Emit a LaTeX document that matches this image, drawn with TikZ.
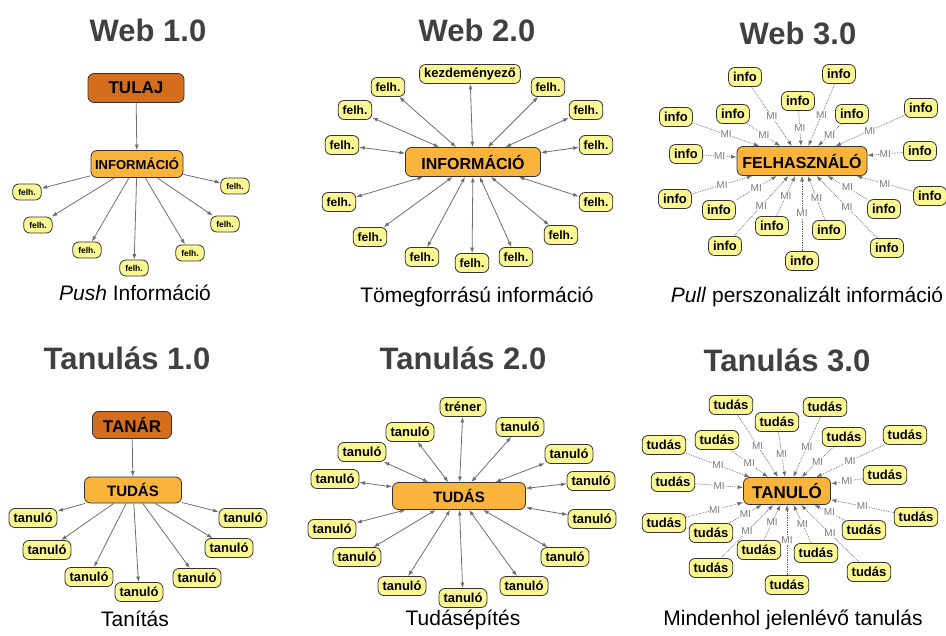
\documentclass[tikz,border=0pt]{standalone}
\usepackage{fontspec}
\setmainfont{Liberation Sans}
\usepackage{xcolor}
\usetikzlibrary{arrows.meta}

\definecolor{titlegray}{HTML}{404040}
\definecolor{ownerorange}{HTML}{D46E1C}
\definecolor{huborange}{HTML}{FAB43C}
\definecolor{leafyellow}{HTML}{FBF792}
\definecolor{linegray}{HTML}{6E6E6E}
\definecolor{migray}{HTML}{7A7A7A}
\newcommand{\fsz}[1]{\fontsize{#1}{#1}\selectfont}

\begin{document}
\begin{tikzpicture}[x=1pt, y=-1pt,
  title/.style={font=\fsz{31}\bfseries, text=titlegray},
  caption/.style={font=\fsz{21}},
  ownerbox/.style={draw=black!80, line width=0.8pt, fill=ownerorange, rounded corners=6pt, font=\fsz{17}\bfseries, inner sep=2pt},
  hubbox/.style={draw=black!80, line width=0.8pt, fill=huborange, rounded corners=6pt, font=\fsz{16}\bfseries, inner sep=2pt},
  leaf/.style={draw=black!80, line width=0.8pt, fill=leafyellow, rounded corners=6pt, font=\fsz{13}\bfseries, inner xsep=4.5pt, inner ysep=1pt, minimum height=19pt},
  tinyleaf/.style={leaf, font=\fsz{8.5}\bfseries, inner xsep=5.5pt, minimum height=16pt},
  push/.style={draw=linegray, line width=0.8pt, -{Latex[length=5.5pt,width=4pt]}},
  share/.style={draw=linegray, line width=0.8pt, {Latex[length=5.5pt,width=4pt]}-{Latex[length=5.5pt,width=4pt]}},
  pull/.style={draw=linegray, line width=0.75pt, densely dotted, -{Latex[length=5.5pt,width=4pt]}},
  milabel/.style={fill=white, inner sep=0.6pt, font=\fsz{10}, text=migray}]

		\useasboundingbox (0,0) rectangle (946,636);

		% Web 1.0
		\node[title] (web1) at (148,30) {Web 1.0};
		\node[ownerbox, minimum width=96pt, minimum height=29pt] (tulaj) at (136,88) {TULAJ};
		\node[hubbox, font=\fsz{13}\bfseries, minimum width=92pt, minimum height=27pt] (info1) at (137,164) {INFORMÁCIÓ};
		\node[tinyleaf] (u1a) at (27,192) {felh.};
		\node[tinyleaf] (u1b) at (38,225) {felh.};
		\node[tinyleaf] (u1c) at (87,250) {felh.};
		\node[tinyleaf] (u1d) at (134,268) {felh.};
		\node[tinyleaf] (u1e) at (190,253) {felh.};
		\node[tinyleaf] (u1f) at (225,224) {felh.};
		\node[tinyleaf] (u1g) at (235,186) {felh.};
		\node[caption] (cap1) at (135,293) {\textit{Push} Információ};

		\draw[push] (tulaj) -- (info1);
		\draw[push] (info1) -- (u1a);
		\draw[push] (info1) -- (u1b);
		\draw[push] (info1) -- (u1c);
		\draw[push] (info1) -- (u1d);
		\draw[push] (info1) -- (u1e);
		\draw[push] (info1) -- (u1f);
		\draw[push] (info1) -- (u1g);

		% Web 2.0
		\node[title] (web2) at (477,30) {Web 2.0};
		\node[hubbox, minimum width=135pt, minimum height=29pt] (info2) at (473,162) {INFORMÁCIÓ};
		\node[leaf] (kezd) at (470,74) {kezdeményező};
		\node[leaf, font=\fsz{12}\bfseries] (u2a) at (388,87) {felh.};
		\node[leaf, font=\fsz{12}\bfseries] (u2b) at (355,110) {felh.};
		\node[leaf, font=\fsz{12}\bfseries] (u2c) at (342,145) {felh.};
		\node[leaf, font=\fsz{12}\bfseries] (u2d) at (339,202) {felh.};
		\node[leaf, font=\fsz{12}\bfseries] (u2e) at (370,237) {felh.};
		\node[leaf, font=\fsz{12}\bfseries] (u2f) at (422,257) {felh.};
		\node[leaf, font=\fsz{12}\bfseries] (u2g) at (472,263) {felh.};
		\node[leaf, font=\fsz{12}\bfseries] (u2h) at (516,257) {felh.};
		\node[leaf, font=\fsz{12}\bfseries] (u2i) at (561,235) {felh.};
		\node[leaf, font=\fsz{12}\bfseries] (u2j) at (596,202) {felh.};
		\node[leaf, font=\fsz{12}\bfseries] (u2k) at (596,145) {felh.};
		\node[leaf, font=\fsz{12}\bfseries] (u2l) at (586,110) {felh.};
		\node[leaf, font=\fsz{12}\bfseries] (u2m) at (548,87) {felh.};
		\node[caption] (cap2) at (477,297) {Tömegforrású információ};

		\draw[share] (info2) -- (kezd);
		\draw[share] (info2) -- (u2a);
		\draw[share] (info2) -- (u2b);
		\draw[share] (info2) -- (u2c);
		\draw[share] (info2) -- (u2d);
		\draw[share] (info2) -- (u2e);
		\draw[share] (info2) -- (u2f);
		\draw[share] (info2) -- (u2g);
		\draw[share] (info2) -- (u2h);
		\draw[share] (info2) -- (u2i);
		\draw[share] (info2) -- (u2j);
		\draw[share] (info2) -- (u2k);
		\draw[share] (info2) -- (u2l);
		\draw[share] (info2) -- (u2m);

		% Web 3.0
		\node[title] (web3) at (798,33) {Web 3.0};
		\node[hubbox, minimum width=130pt, minimum height=29pt] (user3) at (802,161) {FELHASZNÁLÓ};
		\node[leaf] (i3a) at (745,77) {info};
		\node[leaf] (i3b) at (839,74) {info};
		\node[leaf] (i3c) at (798,101) {info};
		\node[leaf] (i3d) at (733,114) {info};
		\node[leaf] (i3e) at (852,114) {info};
		\node[leaf] (i3f) at (676,117) {info};
		\node[leaf] (i3g) at (921,108) {info};
		\node[leaf] (i3h) at (686,154) {info};
		\node[leaf] (i3i) at (920,151) {info};
		\node[leaf] (i3j) at (675,199) {info};
		\node[leaf] (i3k) at (930,196) {info};
		\node[leaf] (i3l) at (719,210) {info};
		\node[leaf] (i3m) at (884,209) {info};
		\node[leaf] (i3n) at (772,226) {info};
		\node[leaf] (i3o) at (829,230) {info};
		\node[leaf] (i3p) at (725,246) {info};
		\node[leaf] (i3q) at (887,248) {info};
		\node[leaf] (i3r) at (802,261) {info};
		\node[caption] (cap3) at (807,297) {\textit{Pull} perszonalizált információ};

		\draw[pull] (i3a) -- node[milabel] {MI} (user3);
		\draw[pull] (i3b) -- node[milabel] {MI} (user3);
		\draw[pull] (i3c) -- node[milabel] {MI} (user3);
		\draw[pull] (i3d) -- node[milabel] {MI} (user3);
		\draw[pull] (i3e) -- node[milabel] {MI} (user3);
		\draw[pull] (i3f) -- node[milabel] {MI} (user3);
		\draw[pull] (i3g) -- node[milabel] {MI} (user3);
		\draw[pull] (i3h) -- node[milabel] {MI} (user3);
		\draw[pull] (i3i) -- node[milabel] {MI} (user3);
		\draw[pull] (i3j) -- node[milabel] {MI} (user3);
		\draw[pull] (i3k) -- node[milabel] {MI} (user3);
		\draw[pull] (i3l) -- node[milabel] {MI} (user3);
		\draw[pull] (i3m) -- node[milabel] {MI} (user3);
		\draw[pull] (i3n) -- node[milabel] {MI} (user3);
		\draw[pull] (i3o) -- node[milabel] {MI} (user3);
		\draw[pull] (i3p) -- node[milabel] {MI} (user3);
		\draw[pull] (i3q) -- node[milabel] {MI} (user3);
		\draw[pull] (i3r) -- node[milabel] {MI} (user3);

		% Tanulás 1.0
		\node[title] (learn1) at (127,358) {Tanulás 1.0};
		\node[ownerbox, minimum width=79pt, minimum height=27pt] (tanar) at (132,425) {TANÁR};
		\node[hubbox, font=\fsz{15}\bfseries, minimum width=97pt, minimum height=26pt] (tudas1) at (133,490) {TUDÁS};
		\node[leaf] (s1a) at (33,518) {tanuló};
		\node[leaf] (s1b) at (47,550) {tanuló};
		\node[leaf] (s1c) at (89,577) {tanuló};
		\node[leaf] (s1d) at (139,592) {tanuló};
		\node[leaf] (s1e) at (197,578) {tanuló};
		\node[leaf] (s1f) at (229,548) {tanuló};
		\node[leaf] (s1g) at (243,518) {tanuló};
		\node[caption] (cap4) at (135,619) {Tanítás};

		\draw[push] (tanar) -- (tudas1);
		\draw[push] (tudas1) -- (s1a);
		\draw[push] (tudas1) -- (s1b);
		\draw[push] (tudas1) -- (s1c);
		\draw[push] (tudas1) -- (s1d);
		\draw[push] (tudas1) -- (s1e);
		\draw[push] (tudas1) -- (s1f);
		\draw[push] (tudas1) -- (s1g);

		% Tanulás 2.0
		\node[title] (learn2) at (463,358) {Tanulás 2.0};
		\node[hubbox, font=\fsz{15}\bfseries, minimum width=133pt, minimum height=27pt] (tudas2) at (459,496) {TUDÁS};
		\node[leaf] (trener) at (463,407) {tréner};
		\node[leaf] (s2a) at (410,432) {tanuló};
		\node[leaf] (s2b) at (362,452) {tanuló};
		\node[leaf] (s2c) at (335,479) {tanuló};
		\node[leaf] (s2d) at (332,529) {tanuló};
		\node[leaf] (s2e) at (357,557) {tanuló};
		\node[leaf] (s2f) at (402,586) {tanuló};
		\node[leaf] (s2g) at (463,598) {tanuló};
		\node[leaf] (s2h) at (524,586) {tanuló};
		\node[leaf] (s2i) at (565,557) {tanuló};
		\node[leaf] (s2j) at (592,519) {tanuló};
		\node[leaf] (s2k) at (591,481) {tanuló};
		\node[leaf] (s2l) at (569,454) {tanuló};
		\node[leaf] (s2m) at (520,427) {tanuló};
		\node[caption] (cap5) at (463,620) {Tudásépítés};

		\draw[share] (tudas2) -- (trener);
		\draw[share] (tudas2) -- (s2a);
		\draw[share] (tudas2) -- (s2b);
		\draw[share] (tudas2) -- (s2c);
		\draw[share] (tudas2) -- (s2d);
		\draw[share] (tudas2) -- (s2e);
		\draw[share] (tudas2) -- (s2f);
		\draw[share] (tudas2) -- (s2g);
		\draw[share] (tudas2) -- (s2h);
		\draw[share] (tudas2) -- (s2i);
		\draw[share] (tudas2) -- (s2j);
		\draw[share] (tudas2) -- (s2k);
		\draw[share] (tudas2) -- (s2l);
		\draw[share] (tudas2) -- (s2m);

		% Tanulás 3.0
		\node[title] (learn3) at (787,360) {Tanulás 3.0};
		\node[hubbox, font=\fsz{17}\bfseries, minimum width=87pt, minimum height=27pt] (tanulo3) at (787,491) {TANULÓ};
		\node[leaf] (k3a) at (731,405) {tudás};
		\node[leaf] (k3b) at (825,407) {tudás};
		\node[leaf] (k3c) at (777,422) {tudás};
		\node[leaf] (k3d) at (717,440) {tudás};
		\node[leaf] (k3e) at (844,437) {tudás};
		\node[leaf] (k3f) at (664,445) {tudás};
		\node[leaf] (k3g) at (905,435) {tudás};
		\node[leaf] (k3h) at (673,482) {tudás};
		\node[leaf] (k3i) at (885,475) {tudás};
		\node[leaf] (k3j) at (664,523) {tudás};
		\node[leaf] (k3k) at (916,517) {tudás};
		\node[leaf] (k3l) at (711,533) {tudás};
		\node[leaf] (k3m) at (864,530) {tudás};
		\node[leaf] (k3n) at (759,550) {tudás};
		\node[leaf] (k3o) at (816,553) {tudás};
		\node[leaf] (k3p) at (711,568) {tudás};
		\node[leaf] (k3q) at (869,572) {tudás};
		\node[leaf] (k3r) at (787,585) {tudás};
		\node[caption] (cap6) at (793,620) {Mindenhol jelenlévő tanulás};

		\draw[pull] (k3a) -- node[milabel] {MI} (tanulo3);
		\draw[pull] (k3b) -- node[milabel] {MI} (tanulo3);
		\draw[pull] (k3c) -- node[milabel] {MI} (tanulo3);
		\draw[pull] (k3d) -- node[milabel] {MI} (tanulo3);
		\draw[pull] (k3e) -- node[milabel] {MI} (tanulo3);
		\draw[pull] (k3f) -- node[milabel] {MI} (tanulo3);
		\draw[pull] (k3g) -- node[milabel] {MI} (tanulo3);
		\draw[pull] (k3h) -- node[milabel] {MI} (tanulo3);
		\draw[pull] (k3i) -- node[milabel] {MI} (tanulo3);
		\draw[pull] (k3j) -- node[milabel] {MI} (tanulo3);
		\draw[pull] (k3k) -- node[milabel] {MI} (tanulo3);
		\draw[pull] (k3l) -- node[milabel] {MI} (tanulo3);
		\draw[pull] (k3m) -- node[milabel] {MI} (tanulo3);
		\draw[pull] (k3n) -- node[milabel] {MI} (tanulo3);
		\draw[pull] (k3o) -- node[milabel] {MI} (tanulo3);
		\draw[pull] (k3p) -- node[milabel] {MI} (tanulo3);
		\draw[pull] (k3q) -- node[milabel] {MI} (tanulo3);
		\draw[pull] (k3r) -- node[milabel] {MI} (tanulo3);
	\end{tikzpicture}
\end{document}
